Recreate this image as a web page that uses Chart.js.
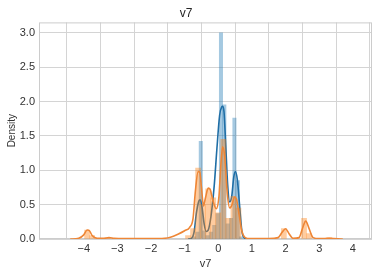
<!DOCTYPE html>
<html>
<head>
<meta charset="utf-8">
<script src="https://cdn.jsdelivr.net/npm/chart.js@4.4.1/dist/chart.umd.min.js"></script>
<style>
  html, body { margin: 0; padding: 0; background: #fff; }
</style>
</head>
<body>
<canvas id="grafico" width="381" height="274"></canvas>
<script>
// tick labels
const xTicks = [-4, -3, -2, -1, 0, 1, 2, 3, 4];
const yTicks = [0, 0.5, 1, 1.5, 2, 2.5, 3];

// histogram, series 1 (blue), bin centres and densities
const blueBins = [-0.72, -0.62, -0.52, -0.42, -0.32, -0.22, -0.12, -0.02, 0.08, 0.18, 0.28, 0.38, 0.48, 0.58, 0.68];
const blueHist = [0.03, 0.1, 1.42, 0.12, 0.05, 0.1, 0.2, 0.37, 3.0, 1.95, 0.22, 0.3, 1.76, 0.85, 0.03];

// histogram, series 2 (orange)
const orangeBins = [-3.9, -3.75, -3.3, -0.9, -0.75, -0.6, -0.45, -0.3, -0.15, 0, 0.15, 0.3, 0.45, 0.6, 1.95, 2.55, 2.7, 3.3];
const orangeHist = [0.13, 0.05, 0.02, 0.05, 0.15, 1.03, 0.5, 0.73, 0.6, 0.38, 1.45, 0.3, 0.62, 0.45, 0.15, 0.3, 0.08, 0.02];

// density curves
const blueKdeX = [-0.9, -0.8, -0.72, -0.65, -0.58, -0.54, -0.48, -0.42, -0.36, -0.3, -0.22, -0.12, -0.04, 0.04, 0.1, 0.13, 0.17, 0.22, 0.28, 0.34, 0.4, 0.46, 0.51, 0.57, 0.64, 0.7, 0.76, 0.85];
const blueKdeY = [0, 0.01, 0.1, 0.38, 0.55, 0.57, 0.45, 0.22, 0.11, 0.13, 0.32, 0.78, 1.32, 1.8, 1.92, 1.93, 1.85, 1.38, 0.78, 0.54, 0.62, 0.9, 0.98, 0.85, 0.45, 0.12, 0.02, 0];

const orangeKdeX = [-4.4, -4.15, -4.0, -3.9, -3.83, -3.75, -3.6, -3.4, -3.25, -3.1, -2.8, -2.0, -1.6, -1.4, -1.2, -1.0, -0.85, -0.75, -0.68, -0.6, -0.55, -0.5, -0.44, -0.38, -0.3, -0.24, -0.16, -0.06, 0.02, 0.08, 0.13, 0.19, 0.27, 0.34, 0.41, 0.48, 0.54, 0.62, 0.7, 0.8, 0.95, 1.5, 1.78, 1.9, 2.0, 2.1, 2.22, 2.4, 2.5, 2.6, 2.7, 2.82, 3.0, 3.3, 3.7];
const orangeKdeY = [0, 0.01, 0.06, 0.13, 0.12, 0.05, 0.01, 0.01, 0.02, 0.01, 0.005, 0.005, 0.01, 0.03, 0.07, 0.12, 0.17, 0.3, 0.7, 0.98, 0.97, 0.75, 0.48, 0.6, 0.74, 0.72, 0.56, 0.44, 0.62, 1.1, 1.34, 1.2, 0.65, 0.45, 0.5, 0.61, 0.58, 0.35, 0.12, 0.02, 0.005, 0.005, 0.02, 0.1, 0.15, 0.08, 0.01, 0.02, 0.15, 0.26, 0.15, 0.02, 0.005, 0.01, 0];

const pares = (xs, ys) => xs.map((x, i) => ({ x: x, y: ys[i] }));
const menos = v => String(v).replace('-', '\u2212');

// moldura cinza em volta da área do gráfico
const moldura = {
  id: 'moldura',
  beforeDatasetsDraw(chart) {
    const a = chart.chartArea, c = chart.ctx;
    c.save();
    c.strokeStyle = '#cccccc';
    c.lineWidth = 1;
    c.strokeRect(a.left + 0.5, a.top + 0.5, a.right - a.left - 1, a.bottom - a.top - 1);
    c.restore();
  }
};

Chart.defaults.font.family = '"Liberation Sans", Arial, sans-serif';
Chart.defaults.color = '#333333';

const ctx = document.getElementById('grafico').getContext('2d');
const config = {
  type: 'bar',
  data: {
    datasets: [
      {
        type: 'line', data: pares(orangeKdeX, orangeKdeY), xAxisID: 'x',
        borderColor: '#ee8636', borderWidth: 1.6, pointRadius: 0,
        cubicInterpolationMode: 'monotone', order: 1
      },
      {
        type: 'bar', data: pares(orangeBins, orangeHist), xAxisID: 'x2',
        backgroundColor: 'rgba(255, 127, 14, 0.4)', borderWidth: 0,
        barPercentage: 1, categoryPercentage: 1, grouped: false, order: 2
      },
      {
        type: 'line', data: pares(blueKdeX, blueKdeY), xAxisID: 'x',
        borderColor: '#1f6ea6', borderWidth: 1.6, pointRadius: 0,
        cubicInterpolationMode: 'monotone', order: 3
      },
      {
        type: 'bar', data: pares(blueBins, blueHist), xAxisID: 'x',
        backgroundColor: 'rgba(31, 119, 180, 0.4)', borderWidth: 0,
        barPercentage: 1, categoryPercentage: 1, grouped: false, order: 4
      }
    ]
  },
  options: {
    responsive: false,
    animation: false,
    devicePixelRatio: 1,
    layout: { padding: { right: 9, left: 0, top: 0, bottom: 0 } },
    plugins: {
      legend: { display: false },
      tooltip: { enabled: false },
      title: {
        display: true, text: 'v7', color: '#262626',
        font: { size: 12, weight: 'normal' },
        padding: { top: 6, bottom: 2 }
      }
    },
    scales: {
      x: {
        type: 'linear', min: -4.78, max: 4.02,
        afterBuildTicks: s => { s.ticks = xTicks.map(v => ({ value: v })); },
        afterFit: s => { s.height = 35; },
        ticks: { callback: v => menos(v), font: { size: 11 }, padding: 3, maxRotation: 0 },
        grid: { color: '#d4d4d4', drawTicks: false },
        border: { display: false },
        title: { display: true, text: 'v7', font: { size: 11 }, padding: { top: 0, bottom: 3 } }
      },
      // eixo auxiliar só para a largura das barras laranja
      x2: {
        type: 'linear', min: -4.78, max: 4.02, position: 'bottom',
        afterBuildTicks: s => { s.ticks = xTicks.map(v => ({ value: v })); },
        afterFit: s => { s.height = 0; },
        ticks: { display: false },
        grid: { display: false },
        border: { display: false }
      },
      y: {
        min: 0, max: 3.15,
        afterBuildTicks: s => { s.ticks = yTicks.map(v => ({ value: v })); },
        afterFit: s => { s.width = 39; },
        ticks: { callback: v => v.toFixed(1), font: { size: 11 }, padding: 4 },
        grid: { color: '#d4d4d4', drawTicks: false },
        border: { display: false },
        title: { display: true, text: 'Density', font: { size: 10 }, padding: { top: 6, bottom: 0 } }
      }
    }
  },
  plugins: [moldura]
};

const grafico = new Chart(ctx, config);
</script>
</body>
</html>
